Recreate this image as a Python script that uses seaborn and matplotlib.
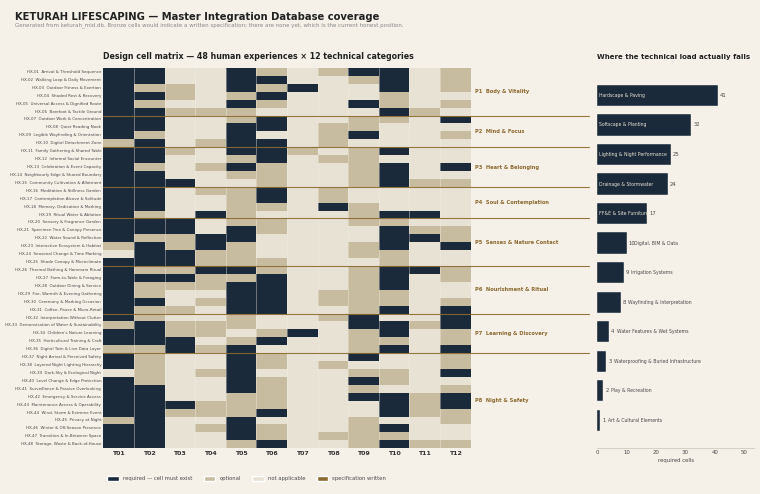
import numpy as np
import pandas as pd
import matplotlib
matplotlib.use("Agg")
import matplotlib.pyplot as plt
from matplotlib.colors import ListedColormap
from matplotlib.patches import Patch
import seaborn as sns

# human experiences (rows of the matrix)
experiences = [
    "HX-01  Arrival & Threshold Sequence", "HX-02  Walking Loop & Daily Movement",
    "HX-03  Outdoor Fitness & Exertion", "HX-04  Shaded Rest & Recovery",
    "HX-05  Universal Access & Dignified Route", "HX-06  Barefoot & Tactile Ground",
    "HX-07  Outdoor Work & Concentration", "HX-08  Quiet Reading Nook",
    "HX-09  Legible Wayfinding & Orientation", "HX-10  Digital Detachment Zone",
    "HX-11  Family Gathering & Shared Table", "HX-12  Informal Social Encounter",
    "HX-13  Celebration & Event Capacity", "HX-14  Neighbourly Edge & Shared Boundary",
    "HX-15  Community Cultivation & Allotment", "HX-16  Meditation & Stillness Garden",
    "HX-17  Contemplation Alcove & Solitude", "HX-18  Memory, Dedication & Marking",
    "HX-19  Ritual Water & Ablution", "HX-20  Sensory & Fragrance Garden",
    "HX-21  Specimen Tree & Canopy Presence", "HX-22  Water Sound & Reflection",
    "HX-23  Interactive Ecosystem & Habitat", "HX-24  Seasonal Change & Time Marking",
    "HX-25  Shade Canopy & Microclimate", "HX-26  Thermal Bathing & Hammam Ritual",
    "HX-27  Farm-to-Table & Foraging", "HX-28  Outdoor Dining & Service",
    "HX-29  Fire, Warmth & Evening Gathering", "HX-30  Ceremony & Marking Occasion",
    "HX-31  Coffee, Pause & Micro-Retail", "HX-32  Interpretation Without Clutter",
    "HX-33  Demonstration of Water & Sustainability", "HX-34  Children's Nature Learning",
    "HX-35  Horticultural Training & Craft", "HX-36  Digital Twin & Live Data Layer",
    "HX-37  Night Arrival & Perceived Safety", "HX-38  Layered Night Lighting Hierarchy",
    "HX-39  Dark-Sky & Ecological Night", "HX-40  Level Change & Edge Protection",
    "HX-41  Surveillance & Passive Overlooking", "HX-42  Emergency & Service Access",
    "HX-43  Maintenance Access & Operability", "HX-44  Wind, Storm & Extreme Event",
    "HX-45  Privacy at Night", "HX-46  Winter & Off-Season Presence",
    "HX-47  Transition & In-Between Space", "HX-48  Storage, Waste & Back-of-House",
]

# pillars and how many experiences each one holds
pillars = ["P1  Body & Vitality", "P2  Mind & Focus", "P3  Heart & Belonging",
           "P4  Soul & Contemplation", "P5  Senses & Nature Contact",
           "P6  Nourishment & Ritual", "P7  Learning & Discovery", "P8  Night & Safety"]
pillar_sizes = [6, 4, 5, 4, 6, 6, 5, 12]

# status per column, split by pillar. R required, O optional, N not applicable
T01 = "RRRRRR RRRO RRRRR RRRR RRRONR RRRRRR RORRO RRNRRRRRORRR"
T02 = "RROror RROR RRORR RRRO RRORRR OROORO ORRRO OOOORRRRRRRR".upper()
T03 = "NNOONO NNNN ONNNR NNNN RROORR ORONNO NOORR NNNNNNRONNNN"
T04 = "NNNNNO NNNO NNONN ONNR NNRROO ROONON NOONO NNONNNOONONN"
T05 = "RRRORO ORRR RORON OOOO ORROOO RORRRR OONOR RRRRROOORRRO"
T06 = "ORORON RRNR RROOO RRON OONNNO ORRRRR NNORN OONOOOORNOOR"
T07 = "NNRNNN NNNN ONNNN NNNN NNNNNN NNNNNN NNRNN NNNNNNNNNNNN"
T08 = "ONNNNN NOOO NONNN OORN NNNNNN NNNOON ONNNN NONNNNNNNNON"
T09 = "RONNRN OORN OOOOO NNOO ONNOON OOOOOO RROOO RNORORNNOOOO"
T10 = "RRROOR ONNN RNRRR NNNR ORRROO RRROOR NRROR NNOONRRRNROR"
T11 = "NNNNNO NNNN NNNNO NNNR NORNNN RNNNNN NONNN NNNNNOOONNNO"
T12 = "OOONON RNON NNRNO NNNN NOORNN OONNOR RROOR OORNORROONNO"
columns = ["T01", "T02", "T03", "T04", "T05", "T06", "T07", "T08", "T09", "T10", "T11", "T12"]
status_cols = [T01, T02, T03, T04, T05, T06, T07, T08, T09, T10, T11, T12]

# required cells per technical category
load_names = ["Hardscape & Paving", "Softscape & Planting", "Lighting & Night Performance",
              "Drainage & Stormwater", "FF&E & Site Furniture", "Digital, BIM & Data",
              "Irrigation Systems", "Wayfinding & Interpretation", "Water Features & Wet Systems",
              "Waterproofing & Buried Infrastructure", "Play & Recreation", "Art & Cultural Elements"]
load_values = [41, 32, 25, 24, 17, 10, 9, 8, 4, 3, 2, 1]

bg = "#f5f0e8"
navy = "#1a2a3a"
tan = "#c8bca0"
pale = "#e8e2d4"
bronze = "#8b6a30"
ink = "#222222"
grey = "#4a4a4a"

W, H = 760, 494


def box(left, top, right, bottom):
    # pixel box to figure fractions
    return [left / W, 1 - bottom / H, (right - left) / W, (bottom - top) / H]


codes = {"N": 0, "O": 1, "R": 2}
matrix = pd.DataFrame(
    {c: [codes[k] for k in s.replace(" ", "")] for c, s in zip(columns, status_cols)},
    index=experiences,
)

sns.set_theme(style="white", rc={"figure.facecolor": bg, "axes.facecolor": bg})

fig = plt.figure(figsize=(W / 100, H / 100), dpi=100)
fig.text(15 / W, 1 - 17 / H, "KETURAH LIFESCAPING — Master Integration Database coverage",
         fontsize=7.22, fontweight="bold", color=ink, va="center")
fig.text(15 / W, 1 - 25.5 / H,
         "Generated from keturah_mid.db. Bronze cells would indicate a written specification; "
         "there are none yet, which is the current honest position.",
         fontsize=4.0, color="#888888", va="center")

# matrix
ax = fig.add_axes(box(103.3, 68, 470.7, 448.2))
sns.heatmap(matrix, ax=ax, cmap=ListedColormap([pale, tan, navy, bronze]), vmin=0, vmax=3,
            cbar=False, linewidths=0, square=False)
ax.vlines(np.arange(1, len(columns)), 0, len(experiences), color=bg, lw=0.5, alpha=0.55)
ax.set_yticks(np.arange(len(experiences)) + 0.5)
ax.set_yticklabels(experiences, fontsize=2.9, color=grey, rotation=0)
ax.set_xticks(np.arange(len(columns)) + 0.5)
ax.set_xticklabels(columns, fontsize=4.5, fontweight="bold", color="#333333", rotation=0)
ax.tick_params(axis="both", length=0, pad=1.5)
ax.tick_params(axis="x", pad=2)
ax.set_title("Design cell matrix — 48 human experiences × 12 technical categories",
             fontsize=5.67, fontweight="bold", color=ink, loc="left", pad=6.5)

# pillar labels and the dividing lines running out to the bar panel
start = 0
for name, size in zip(pillars, pillar_sizes):
    ax.text(12.15, start + size / 2, name, fontsize=3.66, fontweight="bold",
            color=bronze, va="center", clip_on=False)
    start += size
    if start < len(experiences):
        ax.plot([0, 15.88], [start, start], color=bronze, lw=0.8, clip_on=False, alpha=0.9)

# bars
ax2 = fig.add_axes(box(597.3, 68, 754, 448.3))
load = pd.DataFrame({"name": load_names, "value": load_values})
sns.barplot(data=load, x="value", y="name", ax=ax2, color=navy, saturation=1, width=0.72,
            edgecolor=bg, linewidth=0.3)
ax2.set_xlim(0, 53.3)
ax2.set_ylim(11.95, -0.93)
ax2.set_yticks([])
ax2.set_ylabel("")
ax2.set_xticks([0, 10, 20, 30, 40, 50])
ax2.tick_params(axis="x", length=0, labelsize=3.9, labelcolor=grey, pad=1.5)
ax2.set_xlabel("required cells", fontsize=3.9, color=grey, labelpad=2)
sns.despine(ax=ax2, left=True)
ax2.spines["bottom"].set_color("#cfcabd")
ax2.spines["bottom"].set_linewidth(0.6)
ax2.set_title("Where the technical load actually falls", fontsize=5.05, fontweight="bold",
              color=ink, loc="left", pad=6.5)

for i, (name, v) in enumerate(zip(load_names, load_values)):
    ax2.text(v + 0.7, i, str(v), fontsize=3.8, color=grey, va="center")
    if v >= 17:
        ax2.text(0.55, i, name, fontsize=3.3, color="#e8e2d4", va="center")
    else:
        ax2.text(v + 2.6, i, name, fontsize=3.3, color=grey, va="center")

legend_handles = [Patch(facecolor=navy, label="required — cell must exist"),
                  Patch(facecolor=tan, label="optional"),
                  Patch(facecolor=pale, label="not applicable"),
                  Patch(facecolor=bronze, label="specification written")]
fig.legend(handles=legend_handles, loc="center left", bbox_to_anchor=(102.5 / W, 1 - 478.5 / H),
           ncol=4, frameon=False, fontsize=3.75, handlelength=2.2, handleheight=1.0,
           handletextpad=0.8, columnspacing=2.2, labelcolor=grey)

fig.savefig("out.png", dpi=100, facecolor=bg)
